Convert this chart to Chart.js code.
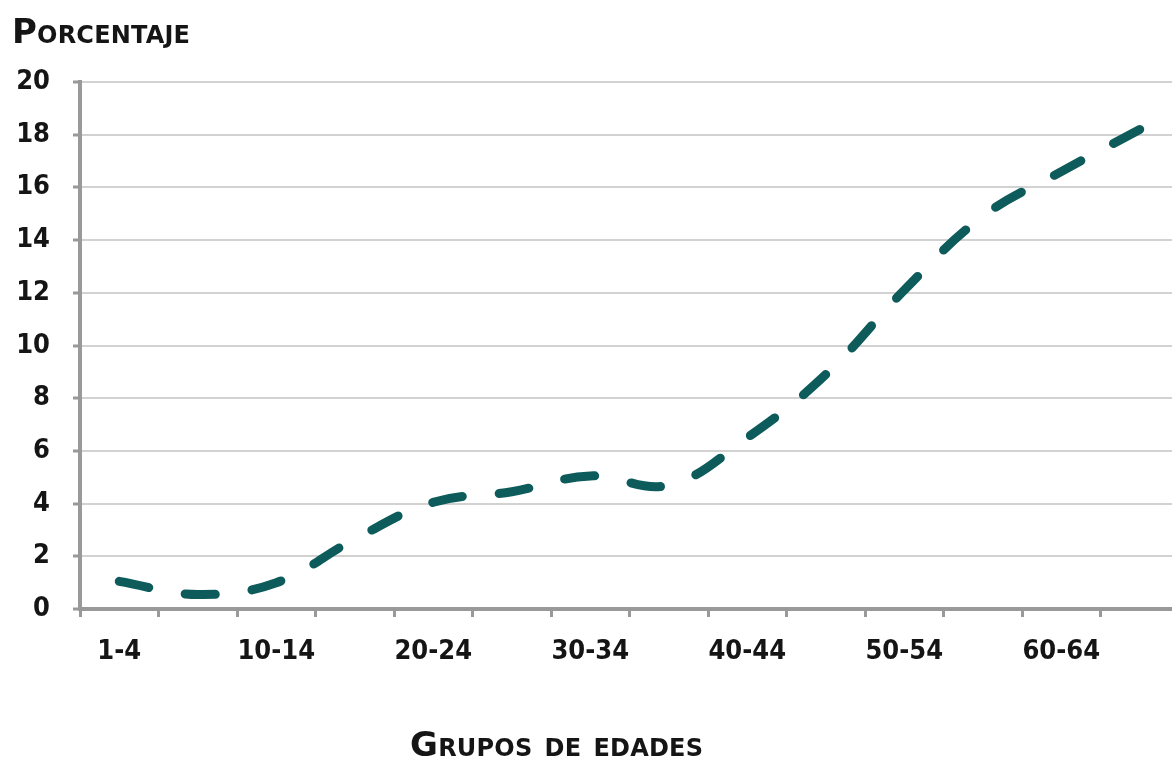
<!DOCTYPE html>
<html>
<head>
<meta charset="utf-8">
<script src="https://cdn.jsdelivr.net/npm/chart.js@4.4.1/dist/chart.umd.min.js"></script>
<style>
  html, body { margin: 0; padding: 0; background: #fff; overflow: hidden; }
  #myChart { display: block; }
</style>
</head>
<body>
<canvas id="myChart" width="1180" height="759"></canvas>
<script>
// age groups (only every other label is printed on the axis)
var ageGroups = ["1-4", "5-9", "10-14", "15-19", "20-24", "25-29", "30-34",
                 "35-39", "40-44", "45-49", "50-54", "55-59", "60-64", "65+"];
var percentages = [1.05, 0.55, 1.0, 2.65, 4.05, 4.45, 5.05, 4.7, 6.5, 8.9, 12.1, 14.9, 16.6, 18.2];
var yTicks = [0, 2, 4, 6, 8, 10, 12, 14, 16, 18, 20];

var yTitle = "Porcentaje";
var xTitle = "Grupos de edades";

var tickFont = { family: "'DejaVu Sans Condensed'", size: 27, weight: "bold" };

// draws a title in small caps, stretched to the width it has in the picture
function drawTitle(ctx, text, x, y, width) {
    ctx.letterSpacing = "0px";
    var w = ctx.measureText(text).width;
    ctx.letterSpacing = ((width - w) / (text.length - 1)) + "px";
    ctx.fillText(text, x, y);
}

var titlesPlugin = {
    id: "titles",
    afterDraw: function (chart) {
        var ctx = chart.ctx;
        ctx.save();
        ctx.fillStyle = "#151515";
        ctx.textBaseline = "alphabetic";
        ctx.textAlign = "left";
        ctx.font = "small-caps bold 34px 'DejaVu Sans'";
        drawTitle(ctx, yTitle, 12, 43, 178);
        drawTitle(ctx, xTitle, 410, 756, 293);
        ctx.restore();
    }
};

var ctx = document.getElementById("myChart").getContext("2d");

var myLineChart = new Chart(ctx, {
    type: "line",
    data: {
        labels: ageGroups,
        datasets: [
            {
                label: yTitle,
                data: percentages,
                borderColor: "#0e5b5b",
                borderWidth: 9,
                borderDash: [30, 37.2],
                borderCapStyle: "round",
                fill: false,
                pointRadius: 0,
                tension: 0.4,
            },
        ],
    },
    options: {
        responsive: false,
        maintainAspectRatio: false,
        animation: false,
        layout: { padding: { top: 82, right: 1, bottom: 0, left: 0 } },
        plugins: {
            legend: { display: false },
            tooltip: { enabled: false },
        },
        scales: {
            x: {
                offset: true,
                afterFit: function (scale) { scale.height = 150; },
                grid: {
                    offset: true,
                    drawOnChartArea: false,
                    drawTicks: true,
                    tickLength: 8,
                    tickColor: "#999",
                    tickWidth: 3,
                },
                border: { color: "#999", width: 4 },
                ticks: {
                    autoSkip: false,
                    maxRotation: 0,
                    padding: 19,
                    color: "#151515",
                    font: tickFont,
                    callback: function (val, i) {
                        return i % 2 === 0 ? ageGroups[i] : "";
                    },
                },
            },
            y: {
                min: 0,
                max: 20,
                afterFit: function (scale) { scale.width = 80; },
                afterBuildTicks: function (scale) {
                    scale.ticks = yTicks.map(function (v) { return { value: v }; });
                },
                grid: {
                    color: "#d2d2d2",
                    lineWidth: 2,
                    tickLength: 7,
                    tickColor: "#999",
                    tickWidth: 3,
                },
                border: { color: "#999", width: 4 },
                ticks: {
                    padding: 23,
                    color: "#151515",
                    font: tickFont,
                },
            },
        },
    },
    plugins: [titlesPlugin],
});
</script>
</body>
</html>
